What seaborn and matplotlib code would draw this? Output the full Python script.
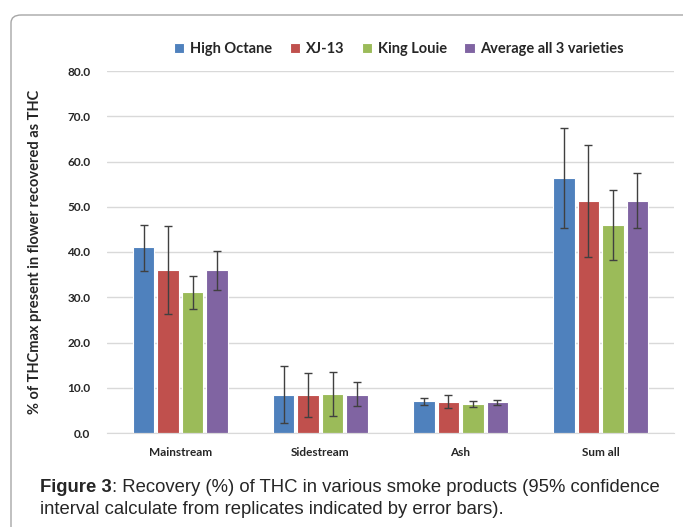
import numpy as np
import pandas as pd
import matplotlib
matplotlib.use('Agg')
import matplotlib.pyplot as plt
import seaborn as sns
from matplotlib.patches import FancyBboxPatch

products = ['Mainstream', 'Sidestream', 'Ash', 'Sum all']
varieties = ['High Octane', 'XJ-13', 'King Louie', 'Average all 3 varieties']

# mean recovery (%) per variety, in product order
high_octane = [41.0, 8.5, 7.0, 56.4]
xj13 = [36.0, 8.4, 6.8, 51.3]
king_louie = [31.1, 8.6, 6.4, 46.0]
average = [36.0, 8.5, 6.8, 51.3]

# error bar ends (95% CI)
high_octane_lo = [35.9, 2.3, 6.2, 45.4]
high_octane_hi = [46.0, 14.7, 7.7, 67.5]
xj13_lo = [26.4, 3.5, 5.5, 39.0]
xj13_hi = [45.7, 13.2, 8.4, 63.6]
king_louie_lo = [27.5, 3.8, 5.8, 38.3]
king_louie_hi = [34.7, 13.5, 7.1, 53.8]
average_lo = [31.7, 5.9, 6.2, 45.3]
average_hi = [40.3, 11.2, 7.3, 57.4]

means = [high_octane, xj13, king_louie, average]
lows = [high_octane_lo, xj13_lo, king_louie_lo, average_lo]
highs = [high_octane_hi, xj13_hi, king_louie_hi, average_hi]
colors = ['#4F81BD', '#C0504D', '#9BBB59', '#8064A2']

rows = []
for v, vals in zip(varieties, means):
    for p, m in zip(products, vals):
        rows.append({'product': p, 'variety': v, 'value': m})
df = pd.DataFrame(rows)

sns.set_style('white')
plt.rcParams['font.family'] = ['Lato', 'DejaVu Sans']

fig = plt.figure(figsize=(6.83, 5.27), dpi=100)
ax = fig.add_axes([107 / 683, 1 - 433 / 527, 567 / 683, 362 / 527])

sns.barplot(data=df, x='product', y='value', hue='variety', order=products,
            hue_order=varieties, palette=colors, width=0.7, gap=0.12,
            edgecolor='white', linewidth=0.8, saturation=1, ax=ax)

# asymmetric error bars, one container per variety
for cont, m, lo, hi in zip(ax.containers, means, lows, highs):
    xs = [b.get_x() + b.get_width() / 2 for b in cont]
    m = np.array(m)
    yerr = [m - np.array(lo), np.array(hi) - m]
    ax.errorbar(xs, m, yerr=yerr, fmt='none', ecolor='#404040',
                elinewidth=1, capsize=3, capthick=1, zorder=5)

ax.set_ylim(0, 80)
ax.set_yticks(np.arange(0, 81, 10))
ax.set_yticklabels([f'{t:.1f}' for t in np.arange(0, 81, 10)],
                   fontsize=8.5, fontweight='bold')
ax.set_xticklabels(products, fontsize=8.5, fontweight='bold')
ax.tick_params(axis='x', length=0, pad=10)
ax.tick_params(axis='y', length=0, pad=12)
ax.set_xlabel('')
ax.set_ylabel('% of THCmax present in flower recovered as THC', fontsize=10.5,
              fontweight='bold', labelpad=18)
ax.yaxis.grid(True, color='#D9D9D9', linewidth=1)
ax.set_axisbelow(True)
for s in ['top', 'right', 'left']:
    ax.spines[s].set_visible(False)
ax.spines['bottom'].set_color('#D9D9D9')

ax.legend(loc='lower center', bbox_to_anchor=(0.515, 1.025), ncol=4, frameon=False,
          prop={'weight': 'bold', 'size': 10.5}, handlelength=0.7, handleheight=0.7,
          handletextpad=0.4, columnspacing=1.2, borderaxespad=0)

frame = FancyBboxPatch((11 / 683, -0.2), 1.2, 1 - 15 / 527 + 0.2,
                       boxstyle='round,pad=0,rounding_size=0.015',
                       transform=fig.transFigure, facecolor='none',
                       edgecolor='#A6A6A6', linewidth=1, clip_on=False)
fig.patches.append(frame)

# caption: bold "Figure 3" followed by regular text
cap_size = 13.3
cap = fig.text(40 / 683, 1 - 487 / 527, 'Figure 3', fontsize=cap_size,
               fontweight='bold', family='Liberation Sans', va='center', ha='left')
fig.canvas.draw()
x_after = cap.get_window_extent().x1 / fig.bbox.width
fig.text(x_after, 1 - 487 / 527,
         ': Recovery (%) of THC in various smoke products (95% confidence',
         fontsize=cap_size, family='Liberation Sans', va='center', ha='left')
fig.text(40 / 683, 1 - 509 / 527,
         'interval calculate from replicates indicated by error bars).',
         fontsize=cap_size, family='Liberation Sans', va='center', ha='left')

fig.savefig('out.png', dpi=100)
